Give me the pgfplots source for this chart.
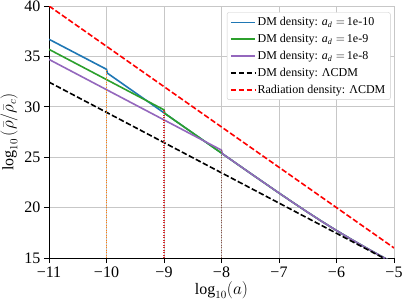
\documentclass[border=0pt]{standalone}
\usepackage{fontspec}
\setmainfont{Liberation Serif}
\usepackage{pgfplots}
\pgfplotsset{compat=1.18}
\definecolor{tabblue}{HTML}{1F77B4}
\definecolor{tabgreen}{HTML}{2CA02C}
\definecolor{tabpurple}{HTML}{9467BD}
\definecolor{taborange}{HTML}{FF7F0E}
\definecolor{tabred}{HTML}{D62728}
\definecolor{tabbrown}{HTML}{8C564B}
\definecolor{redline}{HTML}{FF0000}
\pgfplotsset{
  longline legend/.style={
    legend image code/.code={\draw[##1] (0pt,0pt) -- (24pt,0pt);}
  }
}
\begin{document}
\begin{tikzpicture}
\path[use as bounding box] (-49pt,-45pt) rectangle (355pt,258pt);
\begin{axis}[
 at={(0,0)}, anchor=south west,
 width=345pt, height=252pt, scale only axis,
 xmin=-11, xmax=-5, ymin=15, ymax=40,
 xtick={-11,-10,-9,-8,-7,-6,-5}, xticklabels={−11,−10,−9,−8,−7,−6,−5},
 ytick={15,20,25,30,35,40}, yticklabels={15,20,25,30,35,40},
 tick label style={font=\fontsize{16}{18}\selectfont},
 axis x line*=bottom, axis y line*=left,
 axis line style={line width=0.9pt},
 tick align=outside, major tick length=5pt, tick style={line width=0.9pt, black},
 grid=major, grid style={color=black!22, line width=0.9pt},
 xlabel={$\log_{10}(a)$}, ylabel={$\log_{10}\,(\bar{\rho}/\bar{\rho}_c)$},
 xlabel style={yshift=3pt},
 label style={font=\fontsize{16}{18}\selectfont},
 legend style={at={(0.99,0.975)}, anchor=north east, font=\fontsize{12}{14}\selectfont, draw=black!20, rounded corners=2pt, fill=white, row sep=3pt, inner sep=3pt},
 legend cell align=left,
 longline legend,
]
\addplot[color=tabblue, line width=1.6pt] coordinates {(-11,36.7) (-10,33.72) (-9.985,33.34) (-9,29.4) (-8,25.405) (-7.5,23.415) (-7,21.446) (-6.75,20.479) (-6.5,19.532) (-6.25,18.612) (-6,17.727) (-5.75,16.876) (-5.5,16.058) (-5.25,15.264) (-5,14.487)};
\addlegendentry{DM density: $\mathit{a}_{\mathit{d}}=$\,1e-10}
\addplot[color=tabgreen, line width=1.6pt] coordinates {(-11,35.7) (-9,29.7) (-8.985,29.34) (-8,25.405) (-7.5,23.415) (-7,21.446) (-6.75,20.479) (-6.5,19.532) (-6.25,18.612) (-6,17.727) (-5.75,16.876) (-5.5,16.058) (-5.25,15.264) (-5,14.487)};
\addlegendentry{DM density: $\mathit{a}_{\mathit{d}}=$\,1e-9}
\addplot[color=tabpurple, line width=1.6pt] coordinates {(-11,34.7) (-8,25.7) (-7.985,25.35) (-7.5,23.415) (-7,21.446) (-6.75,20.479) (-6.5,19.532) (-6.25,18.612) (-6,17.727) (-5.75,16.876) (-5.5,16.058) (-5.25,15.264) (-5,14.487)};
\addlegendentry{DM density: $\mathit{a}_{\mathit{d}}=$\,1e-8}
\addplot[color=black, line width=1.6pt, dash pattern=on 5.5pt off 2.4pt] coordinates {(-11,32.45) (-5,14.45)};
\addlegendentry{DM density: ΛCDM}
\addplot[color=redline, line width=1.6pt, dash pattern=on 5.5pt off 2.4pt] coordinates {(-11,40) (-5,16)};
\addlegendentry{Radiation density: ΛCDM}
\addplot[color=taborange, line width=1.4pt, dash pattern=on 1pt off 1.5pt, forget plot] coordinates {(-10,15) (-10,33.65)};
\addplot[color=tabred, line width=1.4pt, dash pattern=on 1pt off 1.5pt, forget plot] coordinates {(-9,15) (-9,29.7)};
\addplot[color=tabbrown, line width=1.4pt, dash pattern=on 1pt off 1.5pt, forget plot] coordinates {(-8,15) (-8,25.75)};
\end{axis}
\end{tikzpicture}
\end{document}
